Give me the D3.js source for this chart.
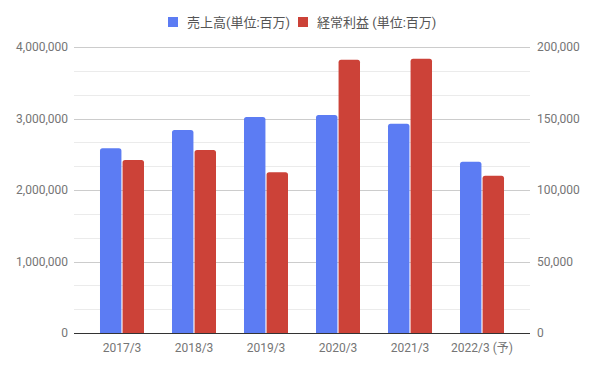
<!DOCTYPE html>
<html><head><meta charset="utf-8">
<script src="https://cdn.jsdelivr.net/npm/d3@7"></script>
<style>body{margin:0;background:#fff}svg{display:block}text{font-family:Roboto,"Noto Sans CJK JP",sans-serif}</style>
</head><body>
<svg id="c" width="596" height="369"></svg>
<script>
const categories = ["2017/3","2018/3","2019/3","2020/3","2021/3","2022/3 (予)"];
const sales = [2585000, 2840000, 3020000, 3050000, 2925000, 2395000];
const ordinaryProfit = [121000, 128000, 112500, 191000, 191800, 110000];
const leftTicks = [0, 1000000, 2000000, 3000000, 4000000];
const rightTicks = [0, 50000, 100000, 150000, 200000];
const seriesNames = ["売上高(単位:百万)", "経常利益 (単位:百万)"];
const colors = ["#5c7cf3", "#cc4238"];

const svg = d3.select("#c");
const L = 74, R = 530, T = 47, B = 333;
const x = d3.scaleBand().domain(categories).range([L, R]).paddingInner(28/72).paddingOuter(0.361);
const yL = d3.scaleLinear().domain([0, 4000000]).range([B, T]);
const yR = d3.scaleLinear().domain([0, 200000]).range([B, T]);
const fmt = d3.format(",");

// minor gridlines
const minor = d3.range(0, 12).map(i => i * 4000000 / 12).filter((v, i) => i % 3 !== 0);
svg.append("g").selectAll("line").data(minor).join("line")
  .attr("x1", L).attr("x2", R).attr("y1", d => Math.round(yL(d)) + 0.5).attr("y2", d => Math.round(yL(d)) + 0.5)
  .attr("stroke", "#ebebeb").attr("stroke-width", 1);
// major gridlines
svg.append("g").selectAll("line").data(leftTicks.slice(1)).join("line")
  .attr("x1", L).attr("x2", R).attr("y1", d => Math.round(yL(d)) + 0.5).attr("y2", d => Math.round(yL(d)) + 0.5)
  .attr("stroke", "#cccccc").attr("stroke-width", 1);

// axes (labels only)
const axL = svg.append("g").attr("transform", `translate(${L - 6},0)`)
  .call(d3.axisLeft(yL).tickValues(leftTicks).tickFormat(fmt).tickSize(0).tickPadding(0));
const axR = svg.append("g").attr("transform", `translate(${R + 7},0)`)
  .call(d3.axisRight(yR).tickValues(rightTicks).tickFormat(fmt).tickSize(0).tickPadding(0));
const axX = svg.append("g").attr("transform", `translate(0,${B})`)
  .call(d3.axisBottom(x).tickSize(0).tickPadding(10));
[axL, axR, axX].forEach(a => {
  a.select(".domain").remove();
  a.selectAll("text").attr("fill", "#757575").attr("font-size", 12);
});

// bars
const bw = x.bandwidth();
const sub = d3.scaleBand().domain([0, 1]).range([0, bw]).paddingInner(0.05);
function topRound(x0, y0, w, h, r) {
  r = Math.min(r, h, w / 2);
  return `M${x0},${y0 + h}V${y0 + r}Q${x0},${y0} ${x0 + r},${y0}H${x0 + w - r}Q${x0 + w},${y0} ${x0 + w},${y0 + r}V${y0 + h}Z`;
}
const data = categories.map((c, i) => ({c, v: [sales[i], ordinaryProfit[i]]}));
const g = svg.append("g");
data.forEach(d => {
  [0, 1].forEach(k => {
    const sc = k === 0 ? yL : yR;
    const yy = sc(d.v[k]);
    g.append("path")
      .attr("d", topRound(x(d.c) + sub(k), yy, sub.bandwidth(), B - yy, 2.5))
      .attr("fill", colors[k]);
  });
});

// baseline
svg.append("line").attr("x1", L).attr("x2", R).attr("y1", B + 0.5).attr("y2", B + 0.5)
  .attr("stroke", "#333").attr("stroke-width", 1);

// legend
const lg = svg.append("g");
const lx = [168, 298];
seriesNames.forEach((n, i) => {
  lg.append("rect").attr("x", lx[i]).attr("y", 17).attr("width", 10).attr("height", 10).attr("fill", colors[i]);
  lg.append("text").attr("x", lx[i] + 19).attr("y", 26.5).attr("font-size", 13).attr("fill", "#555").text(n);
});
</script>
</body></html>
